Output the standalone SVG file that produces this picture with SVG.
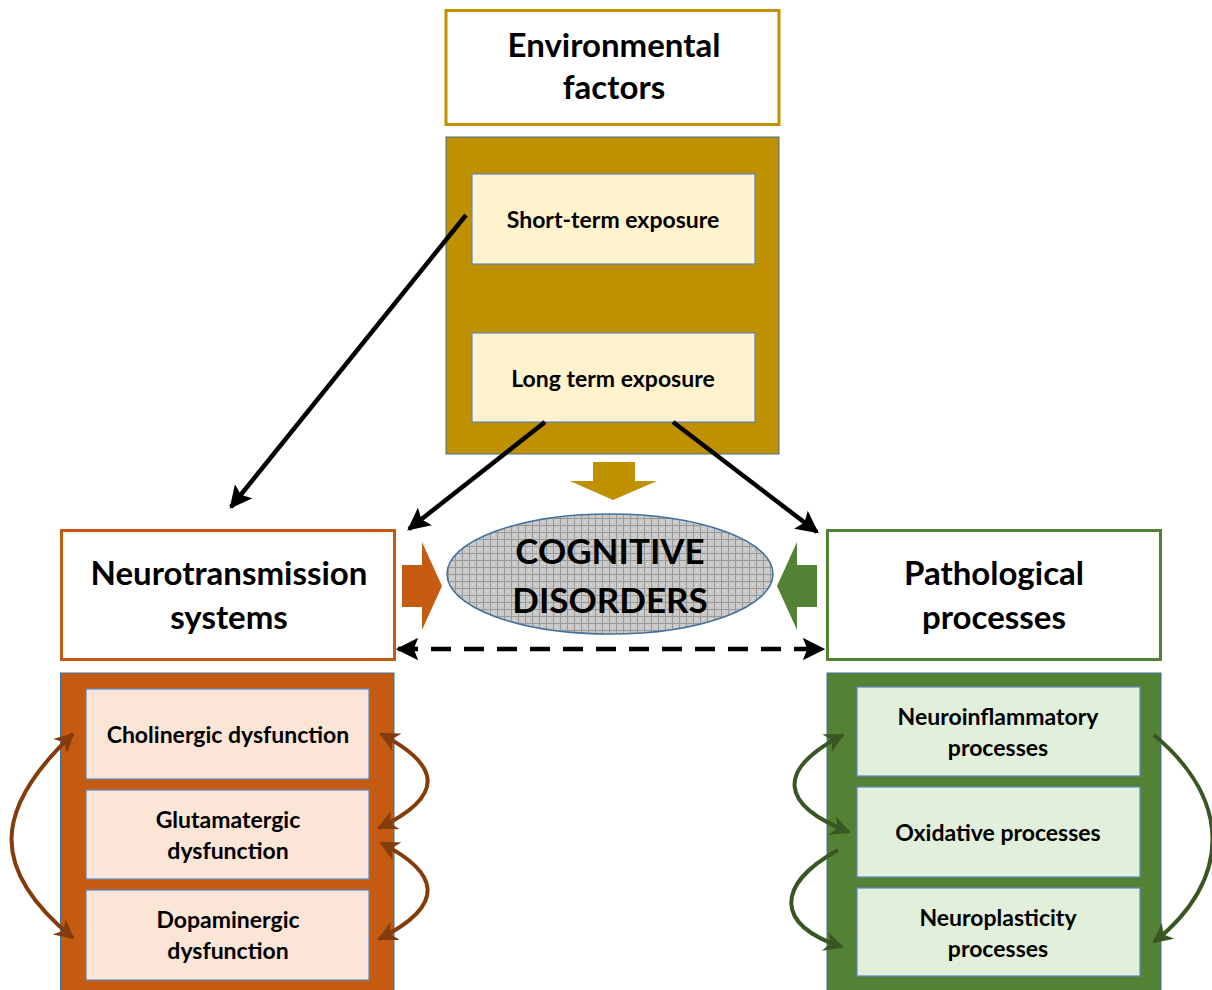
<svg xmlns="http://www.w3.org/2000/svg" width="1212" height="990" viewBox="0 0 1212 990">
<style>
text{font-family:Lato,"Open Sans","Liberation Sans",sans-serif;font-weight:bold;fill:#000;text-anchor:middle}
.big{font-size:33px}
.mid{font-size:23px}
.cog{font-size:35px}
.inner{stroke:#5B87C5;stroke-width:1.2}
.conn{fill:none;stroke:#000;stroke-width:4.5}
.oc{fill:none;stroke:#843C0C;stroke-width:4}
.gc{fill:none;stroke:#385723;stroke-width:4}
</style>
<defs>
<marker id="ab" viewBox="0 0 10 10" refX="9" refY="5" markerWidth="5" markerHeight="5" orient="auto-start-reverse" markerUnits="strokeWidth">
<path d="M0,0 L10,5 L0,10 L2,5 z" fill="#000"/></marker>
<marker id="ao" viewBox="0 0 10 10" refX="9" refY="5" markerWidth="5" markerHeight="5" orient="auto-start-reverse" markerUnits="strokeWidth">
<path d="M0,0 L10,5 L0,10 L3,5 z" fill="#843C0C"/></marker>
<marker id="ag" viewBox="0 0 10 10" refX="9" refY="5" markerWidth="5" markerHeight="5" orient="auto-start-reverse" markerUnits="strokeWidth">
<path d="M0,0 L10,5 L0,10 L3,5 z" fill="#385723"/></marker>
<pattern id="grid" width="7" height="7" patternUnits="userSpaceOnUse">
<rect width="7" height="7" fill="#C9C9C9"/>
<path d="M0,0.5 H7 M0.5,0 V7" stroke="#9A9A9A" stroke-width="1"/>
<rect x="3" y="3" width="1" height="1" fill="#E6E6E6"/>
</pattern>
</defs>

<g id="env-title">
<rect x="446" y="10.5" width="333" height="114" fill="#fff" stroke="#BF9000" stroke-width="3"/>
<text class="big" x="614" y="57">Environmental</text>
<text class="big" x="614" y="99">factors</text>
</g>

<g id="env-box">
<rect x="446" y="137" width="333" height="317" fill="#BF9000" stroke="#41719C" stroke-width="1"/>
</g>
<g id="short-term">
<rect class="inner" x="472" y="174" width="283" height="90" fill="#FFF2CC"/>
<text class="mid" x="613" y="228">Short-term exposure</text>
</g>
<g id="long-term">
<rect class="inner" x="472" y="333" width="283" height="89" fill="#FFF2CC"/>
<text class="mid" x="613" y="387">Long term exposure</text>
</g>

<g id="neuro-title">
<rect x="61.5" y="530.5" width="333" height="129" fill="#fff" stroke="#C55A11" stroke-width="3"/>
<text class="big" x="229" y="585">Neurotransmission</text>
<text class="big" x="229" y="629">systems</text>
</g>

<g id="patho-title">
<rect x="827.5" y="530.5" width="333" height="129" fill="#fff" stroke="#548235" stroke-width="3"/>
<text class="big" x="994" y="585">Pathological</text>
<text class="big" x="994" y="629">processes</text>
</g>

<g id="cognitive">
<ellipse cx="610" cy="574" rx="163" ry="60" fill="url(#grid)" stroke="#41719C" stroke-width="1.5"/>
<text class="cog" x="610" y="564">COGNITIVE</text>
<text class="cog" x="610" y="613">DISORDERS</text>
</g>

<g id="neuro-box">
<rect x="60.5" y="673" width="333.5" height="330" fill="#C55A11" stroke="#41719C" stroke-width="1"/>
</g>
<g id="cholinergic">
<rect class="inner" x="86" y="689" width="283" height="90" fill="#FBE5D6"/>
<text class="mid" x="228" y="743">Cholinergic dysfunction</text>
</g>
<g id="glutamatergic">
<rect class="inner" x="86" y="790" width="283" height="89" fill="#FBE5D6"/>
<text class="mid" x="228" y="828">Glutamatergic</text>
<text class="mid" x="228" y="859">dysfunction</text>
</g>
<g id="dopaminergic">
<rect class="inner" x="86" y="890" width="283" height="90" fill="#FBE5D6"/>
<text class="mid" x="228" y="928">Dopaminergic</text>
<text class="mid" x="228" y="959">dysfunction</text>
</g>

<g id="patho-box">
<rect x="827" y="673" width="334" height="330" fill="#548235" stroke="#41719C" stroke-width="1"/>
</g>
<g id="neuroinflammatory">
<rect class="inner" x="857" y="687" width="283" height="89" fill="#E2EFDA"/>
<text class="mid" x="998" y="725">Neuroinflammatory</text>
<text class="mid" x="998" y="756">processes</text>
</g>
<g id="oxidative">
<rect class="inner" x="857" y="787" width="283" height="90" fill="#E2EFDA"/>
<text class="mid" x="998" y="841">Oxidative processes</text>
</g>
<g id="neuroplasticity">
<rect class="inner" x="857" y="888" width="283" height="88" fill="#E2EFDA"/>
<text class="mid" x="998" y="926">Neuroplasticity</text>
<text class="mid" x="998" y="957">processes</text>
</g>

<g id="connectors">
<line class="conn" x1="466" y1="215" x2="231" y2="507" marker-end="url(#ab)"/>
<line class="conn" x1="545" y1="422" x2="409" y2="529" marker-end="url(#ab)"/>
<line class="conn" x1="673" y1="422" x2="817" y2="532" marker-end="url(#ab)"/>
<line class="conn" x1="398" y1="649" x2="823" y2="649" stroke-dasharray="20,13" marker-start="url(#ab)" marker-end="url(#ab)"/>
<path d="M593,462 H635 V481 H657 L613,500 L570,481 H593 Z" fill="#BF9000"/>
<path d="M402,565 H422 V542 L442,586 L422,630 V607 H402 Z" fill="#C55A11"/>
<path d="M817,565 H797 V542 L777,586 L797,630 V607 H817 Z" fill="#548235"/>
<path class="oc" d="M73,734 C-8,810 -10,870 73,938" marker-start="url(#ao)" marker-end="url(#ao)"/>
<path class="oc" d="M381,734 C440,765 447,795 379,828" marker-start="url(#ao)" marker-end="url(#ao)"/>
<path class="oc" d="M381,843 C440,873 447,905 379,939" marker-start="url(#ao)" marker-end="url(#ao)"/>
<path class="gc" d="M843,735 C775,770 780,805 849,832" marker-start="url(#ag)" marker-end="url(#ag)"/>
<path class="gc" d="M838,850 C775,885 775,925 842,947" marker-end="url(#ag)"/>
<path class="gc" d="M1154,735 C1232,800 1232,880 1154,942" marker-end="url(#ag)"/>
</g>
</svg>
